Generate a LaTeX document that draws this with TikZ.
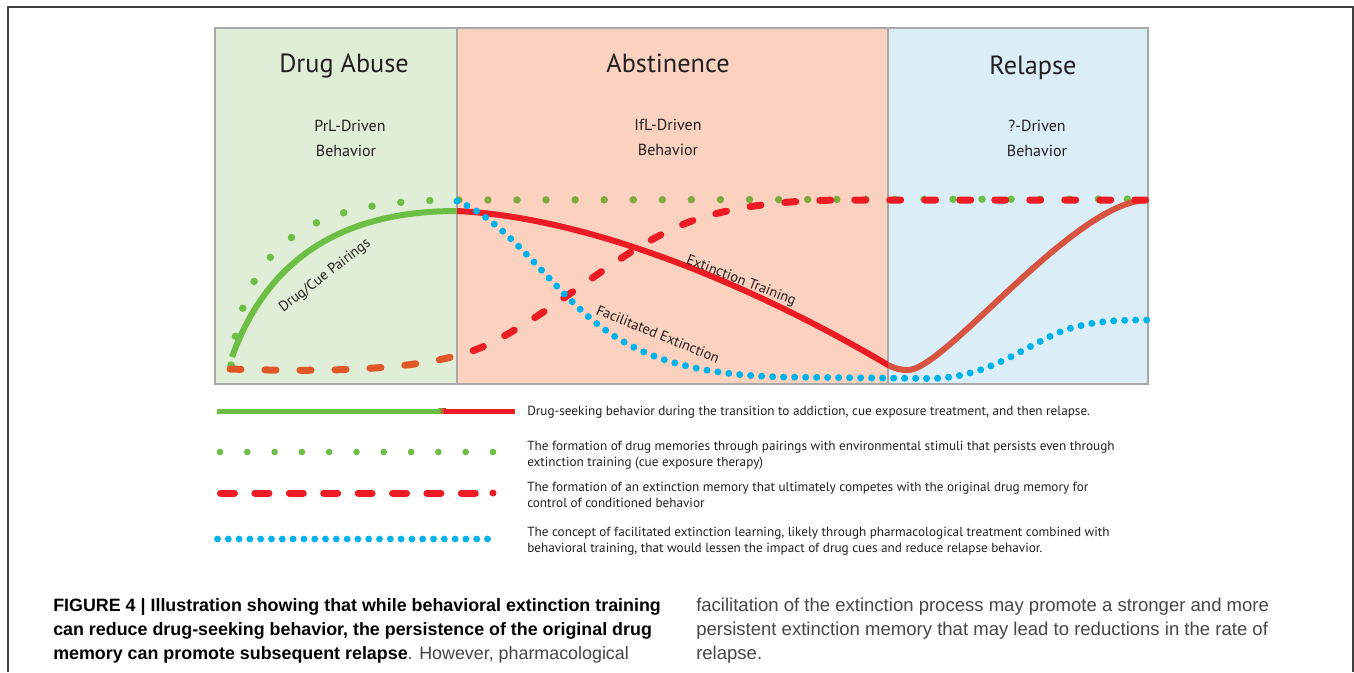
\documentclass[tikz,border=0pt]{standalone}
\usepackage{fontspec}
\setmainfont{PT Sans}
\newfontfamily\capfont{Liberation Sans}
\definecolor{pgreen}{RGB}{224,237,215}
\definecolor{psalmon}{RGB}{251,210,192}
\definecolor{pblue}{RGB}{219,238,248}
\definecolor{pborder}{RGB}{168,168,168}
\definecolor{cgreen}{RGB}{108,190,69}
\definecolor{colive}{RGB}{128,170,62}
\definecolor{cred}{RGB}{237,28,36}
\definecolor{corange}{RGB}{224,88,40}
\definecolor{crelred}{RGB}{214,84,64}
\definecolor{ccyan}{RGB}{0,178,236}
\definecolor{tdark}{RGB}{35,31,32}
\definecolor{capgray}{RGB}{70,70,70}
\tikzset{
  panel/.style={draw=pborder, line width=1.2pt},
  solidcurve/.style={line width=4.5pt, line cap=butt},
  greendots/.style={line width=5.6pt, line cap=round, dash pattern=on 0pt off 21.8pt},
  reddash/.style={line width=5.25pt, line cap=round, dash pattern=on 8.25pt off 18pt},
  bluedots/.style={line width=5.25pt, line cap=round, dash pattern=on 0pt off 8.25pt},
  ttl/.style={font=\fontsize{19.7}{22}\selectfont, text=tdark, anchor=base, inner sep=0pt},
  sub/.style={font=\fontsize{12}{14}\selectfont, text=tdark, anchor=base, inner sep=0pt, align=center},
  curvelbl/.style={font=\fontsize{10.8}{12}\selectfont, text=tdark, inner sep=0pt},
  legtxt/.style={font=\fontsize{9.9}{11}\selectfont, text=tdark, anchor=base west, inner sep=0pt},
  capb/.style={font=\capfont\bfseries\fontsize{13.4}{15}\selectfont, anchor=base west, inner sep=0pt},
  capr/.style={font=\capfont\fontsize{13.9}{16}\selectfont, text=capgray, anchor=base west, inner sep=0pt},
}
\newcommand\GreenDotPath{(231,365) .. controls (245,240) and (310,200) .. (457,200) -- (1148,199)}
\newcommand\RedDashPath{(230,369) .. controls (350,373) and (430,368) .. (480,348) .. controls (560,312) and (620,245) .. (700,218) .. controls (760,200) and (820,200) .. (860,200) -- (1148,200)}
\newcommand\RedSolidPath{(457,211) .. controls (600,218) and (770,295) .. (888,365) .. controls (896,369) and (901,370) .. (908,370) .. controls (945,370) and (1075,200) .. (1148,200)}
\newcommand\BlueDotPath{(457,201) .. controls (505,220) and (545,280) .. (590,318) .. controls (630,352) and (680,374) .. (780,377) -- (930,378.5) .. controls (990,378) and (1025,345) .. (1065,330) .. controls (1095,320) and (1125,320) .. (1148,320)}
\begin{document}
\begin{tikzpicture}[x=0.75pt, y=-0.75pt]
\useasboundingbox (0,0) rectangle (1354,672);
\fill[white] (0,0) rectangle (1354,672);
% outer frame
\draw[line width=1.2pt, draw=black!75] (8,672) -- (8,7) -- (1353,7) -- (1353,672);
% panels
\fill[pgreen] (215,28) rectangle (457,384);
\fill[psalmon] (457,28) rectangle (888,384);
\fill[pblue] (888,28) rectangle (1148,384);
\draw[panel] (215,28) rectangle (1148,384);
\draw[panel] (457,28) -- (457,384);
\draw[panel] (888,28) -- (888,384);
% titles
\node[ttl] (t1) at (344,72) {Drug Abuse};
\node[ttl] (t2) at (668,72) {Abstinence};
\node[ttl] (t3) at (1033,74) {Relapse};
\node[sub] (s1a) at (350,131) {PrL-Driven};
\node[sub] (s1b) at (346,156) {Behavior};
\node[sub] (s2a) at (668,130) {IfL-Driven};
\node[sub] (s2b) at (668,155) {Behavior};
\node[sub] (s3a) at (1037,131) {?-Driven};
\node[sub] (s3b) at (1037,156) {Behavior};
% green solid
\draw[solidcurve, cgreen] (232,357) .. controls (270,252) and (350,211) .. (457,211);
% green dots
\begin{scope}\clip (200,0) rectangle (457,400); \draw[greendots, cgreen] \GreenDotPath; \end{scope}
\begin{scope}\clip (457,0) rectangle (888,400); \draw[greendots, colive] \GreenDotPath; \end{scope}
\begin{scope}\clip (888,0) rectangle (1200,400); \draw[greendots, cgreen] \GreenDotPath; \end{scope}
% red solid
\begin{scope}\clip (450,0) rectangle (888,400); \draw[solidcurve, cred] \RedSolidPath; \end{scope}
\begin{scope}\clip (888,0) rectangle (1200,400); \draw[solidcurve, crelred] \RedSolidPath; \end{scope}
% red dashed
\begin{scope}\clip (200,0) rectangle (457,400); \draw[reddash, corange] \RedDashPath; \end{scope}
\begin{scope}\clip (457,0) rectangle (1200,400); \draw[reddash, cred] \RedDashPath; \end{scope}
% blue dots
\draw[bluedots, ccyan] \BlueDotPath;
% curve labels
\node[curvelbl, rotate=37.5] (lpair) at (325,276) {Drug/Cue Pairings};
\node[curvelbl, rotate=-21] (lext) at (741,281) {Extinction Training};
\node[curvelbl, rotate=-22] (lfac) at (658,334) {Facilitated Extinction};
% legend
\draw[line width=3.75pt, cgreen] (217,411) -- (440,411);
\shade[left color=cgreen, right color=cred] (438,408.5) rectangle (446,413.5);
\draw[line width=3.75pt, cred] (444,411) -- (515,411);
\node[legtxt] (lg1) at (527,415) {Drug-seeking behavior during the transition to addiction, cue exposure treatment, and then relapse.};
\foreach \i in {0,...,10} \fill[cgreen] (220+27.3*\i,452) circle (3.3);
\node[legtxt] (lg2a) at (527,450) {The formation of drug memories through pairings with environmental stimuli that persists even through};
\node[legtxt] (lg2b) at (527,466) {extinction training (cue exposure therapy)};
\foreach \i in {0,...,7} \draw[line width=5.25pt, line cap=round, cred] (220.5+34.4*\i,493) -- ++(14,0);
\fill[cred] (493,493) circle (3.5);
\node[legtxt] (lg3a) at (527,491) {The formation of an extinction memory that ultimately competes with the original drug memory for};
\node[legtxt] (lg3b) at (527,507) {control of conditioned behavior};
\foreach \i in {0,...,25} \fill[ccyan] (217.5+10.8*\i,539) circle (3.4);
\node[legtxt] (lg4a) at (527,536) {The concept of facilitated extinction learning, likely through pharmacological treatment combined with};
\node[legtxt] (lg4b) at (527,552) {behavioral training, that would lessen the impact of drug cues and reduce relapse behavior.};
% caption
\node[capb] (c1) at (53,611.5) {FIGURE 4 | Illustration showing that while behavioral extinction training};
\node[capb] (c2) at (53,635.5) {can reduce drug-seeking behavior, the persistence of the original drug};
\node[capb] (c3) at (53,659.5) {memory can promote subsequent relapse\textmd{\color{capgray}. However, pharmacological}};
\node[capr] (c4) at (696,611.5) {facilitation of the extinction process may promote a stronger and more};
\node[capr] (c5) at (696,635.5) {persistent extinction memory that may lead to reductions in the rate of};
\node[capr] (c6) at (696,659.5) {relapse.};
\end{tikzpicture}
\end{document}
